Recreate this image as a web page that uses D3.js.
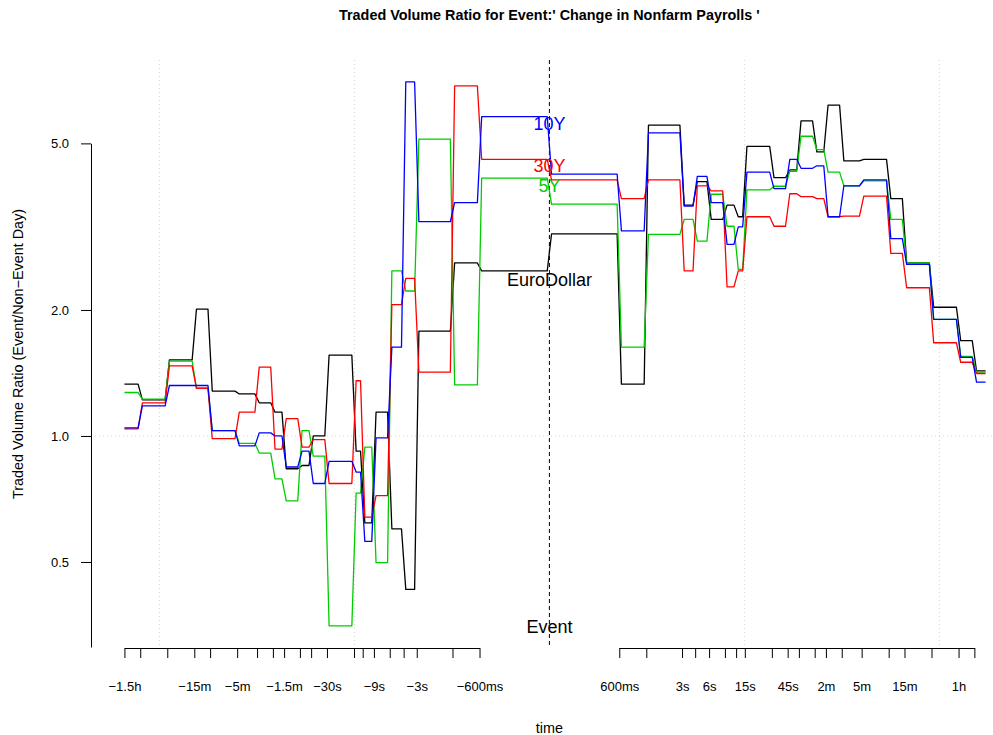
<!DOCTYPE html>
<html>
<head>
<meta charset="utf-8">
<script src="https://cdn.jsdelivr.net/npm/d3@7"></script>
<style>
  html, body { margin: 0; padding: 0; background: #fff; }
  text { font-family: "Liberation Sans", Arial, Helvetica, sans-serif; }
</style>
</head>
<body>
<div id="viz"></div>
<script>
// time bins (seconds relative to the event)
const binEdges = [-5400, -3600, -1800, -900, -600, -300, -180, -120, -90, -60, -45, -30,
    -15, -12, -9, -6, -4.2, -3, -1.2, -0.6, 0, 0.6, 1.2, 3, 4.2, 6, 9, 12, 15, 30, 45,
    60, 90, 120, 180, 300, 600, 900, 1800, 3600, 5400, 7200];

// ratio per bin, 20 bins before the event and 21 after
const euroDollar = [1.33, 1.22, 1.52, 2.01, 1.28, 1.26, 1.20, 1.14, 0.835, 0.85,
    1.00, 1.56, 0.92, 0.62, 1.14, 0.60, 0.43, 1.78, 2.59, 2.48,
    3.04, 1.33, 5.53, 3.56, 4.05, 3.29, 3.56, 3.34, 4.92, 4.14,
    4.32, 5.66, 4.77, 6.17, 4.54, 4.58, 3.69, 2.59, 2.03, 1.69, 1.43];
const y5 = [1.27, 1.225, 1.51, 1.30, 1.03, 0.96, 0.91, 0.79, 0.70, 1.03,
    0.895, 0.352, 0.73, 0.94, 0.498, 2.48, 2.22, 5.12, 1.325, 4.13,
    3.58, 1.63, 3.03, 3.29, 2.92, 3.78, 3.17, 2.50, 3.87, 3.95,
    4.29, 5.20, 4.83, 4.27, 3.96, 4.07, 3.29, 2.59, 1.90, 1.55, 1.42];
const y30 = [1.04, 1.20, 1.47, 1.30, 0.985, 1.14, 1.46, 0.93, 1.10, 0.94,
    0.98, 0.77, 1.355, 0.64, 0.72, 2.06, 2.38, 1.42, 6.86, 4.58,
    4.09, 3.69, 4.09, 2.48, 3.96, 3.85, 2.27, 2.48, 3.34, 3.17,
    3.79, 3.73, 3.69, 3.34, 3.35, 3.74, 2.73, 2.26, 1.67, 1.50, 1.41];
const y10 = [1.045, 1.18, 1.32, 1.32, 1.03, 0.947, 1.017, 1.00, 0.843, 0.92,
    0.77, 0.87, 0.82, 0.56, 0.99, 1.63, 7.01, 3.25, 3.61, 5.79,
    4.22, 3.09, 5.30, 3.54, 4.17, 3.61, 2.87, 3.16, 4.27, 3.90,
    4.58, 4.36, 4.42, 3.34, 3.96, 4.09, 2.96, 2.57, 1.90, 1.54, 1.345];

const seriesNames = ["EuroDollar", "5Y", "30Y", "10Y"];
const seriesColors = ["#000000", "#00cd00", "#ff0000", "#0000ff"];
const seriesValues = [euroDollar, y5, y30, y10];
const labelValues = [2.36, 3.96, 4.42, 5.56];

// axis ticks
const leftTickTimes = [-5400, -3600, -1800, -900, -600, -300, -180, -120, -90, -60,
    -45, -30, -15, -12, -9, -6, -4.2, -3, -1.2, -0.6];
const leftTickLabels = ["\u22121.5h", "", "", "\u221215m", "", "\u22125m", "", "", "\u22121.5m", "",
    "", "\u221230s", "", "", "\u22129s", "", "", "\u22123s", "", "\u2212600ms"];
const rightTickTimes = [0.6, 1.2, 3, 4.2, 6, 9, 12, 15, 30, 45,
    60, 90, 120, 180, 300, 600, 900, 1800, 3600, 5400];
const rightTickLabels = ["600ms", "", "3s", "", "6s", "", "", "15s", "", "45s",
    "", "", "2m", "", "5m", "", "15m", "", "1h", ""];
const yTicks = [0.5, 1, 2, 5];
const gridU = [-10, -5, 5, 10];

const width = 993, height = 735;
const plotTop = 60, plotBottom = 648;

// signed log-time in units of 100ms
const toU = t => t === 0 ? 0 : Math.sign(t) * Math.log(Math.abs(t) * 10);

const x = d3.scaleLinear().domain([-12, 12]).range([81.4, 1017.4]);
const y = d3.scaleLog().domain([0.3115, 7.91]).range([plotBottom, plotTop]);

const svg = d3.select("#viz").append("svg")
    .attr("width", width)
    .attr("height", height);

// dotted grid
svg.append("g")
    .selectAll("line")
    .data(gridU)
    .join("line")
    .attr("x1", d => x(d)).attr("x2", d => x(d))
    .attr("y1", plotTop).attr("y2", plotBottom)
    .attr("stroke", "#d3d3d3")
    .attr("stroke-dasharray", "1,3");

svg.append("line")
    .attr("x1", 91).attr("x2", width)
    .attr("y1", y(1)).attr("y2", y(1))
    .attr("stroke", "#d3d3d3")
    .attr("stroke-dasharray", "1,3");

// event line
svg.append("line")
    .attr("x1", x(0)).attr("x2", x(0))
    .attr("y1", plotTop).attr("y2", plotBottom)
    .attr("stroke", "#000")
    .attr("stroke-dasharray", "4,3");

// step lines with short ramps at bin edges
const delta = 0.055;
const line = d3.line().x(d => x(d.u)).y(d => y(d.v));

function stepPoints(values) {
    const pts = [];
    values.forEach((v, i) => {
        const ua = toU(binEdges[i]);
        const ub = toU(binEdges[i + 1]);
        pts.push({ u: i === 0 ? ua : ua + delta, v });
        pts.push({ u: i === values.length - 1 ? ub : ub - delta, v });
    });
    return pts;
}

svg.append("g")
    .selectAll("path")
    .data(seriesValues)
    .join("path")
    .attr("d", d => line(stepPoints(d)))
    .attr("fill", "none")
    .attr("stroke", (d, i) => seriesColors[i])
    .attr("stroke-width", 1.3)
    .attr("stroke-linejoin", "round");

// series labels at the event
svg.append("g")
    .selectAll("text")
    .data(seriesNames)
    .join("text")
    .attr("x", x(0))
    .attr("y", (d, i) => y(labelValues[i]))
    .attr("dy", "0.35em")
    .attr("text-anchor", "middle")
    .attr("font-size", 18)
    .attr("fill", (d, i) => seriesColors[i])
    .text(d => d);

svg.append("text")
    .attr("x", x(0))
    .attr("y", y(0.35))
    .attr("dy", "0.35em")
    .attr("text-anchor", "middle")
    .attr("font-size", 18)
    .text("Event");

// x axes, one each side of the event
function timeAxis(times, labels) {
    const us = times.map(toU);
    const ext = [us[0], us[us.length - 1]];
    const scale = x.copy().domain(ext).range(ext.map(x));
    const g = svg.append("g")
        .attr("transform", `translate(0,${plotBottom})`)
        .call(d3.axisBottom(scale)
            .tickValues(us)
            .tickFormat((d, i) => labels[i])
            .tickSize(10)
            .tickSizeOuter(0)
            .tickPadding(24));
    g.attr("font-family", null).attr("font-size", 13);
    g.selectAll("text").attr("fill", "#000");
    g.selectAll("path, line").attr("stroke", "#000");
}
timeAxis(leftTickTimes, leftTickLabels);
timeAxis(rightTickTimes, rightTickLabels);

// y axis
const yAxisScale = y.copy().domain([y.invert(647), 5]).range([647, y(5)]);
const gy = svg.append("g")
    .attr("transform", "translate(91,0)")
    .call(d3.axisLeft(yAxisScale)
        .tickValues(yTicks)
        .tickFormat(d3.format(".1f"))
        .tickSize(10)
        .tickSizeOuter(0)
        .tickPadding(12));
gy.attr("font-family", null).attr("font-size", 13);
gy.selectAll("text").attr("fill", "#000");
gy.selectAll("path, line").attr("stroke", "#000");

// titles
svg.append("text")
    .attr("x", x(0))
    .attr("y", 20)
    .attr("text-anchor", "middle")
    .attr("font-size", 14.4)
    .attr("font-weight", "bold")
    .text("Traded Volume Ratio for Event:' Change in Nonfarm Payrolls '");

svg.append("text")
    .attr("x", x(0))
    .attr("y", 733)
    .attr("text-anchor", "middle")
    .attr("font-size", 14.4)
    .text("time");

svg.append("text")
    .attr("transform", "translate(18,354) rotate(-90)")
    .attr("dy", "0.35em")
    .attr("text-anchor", "middle")
    .attr("font-size", 14.4)
    .text("Traded Volume Ratio (Event/Non\u2212Event Day)");
</script>
</body>
</html>
